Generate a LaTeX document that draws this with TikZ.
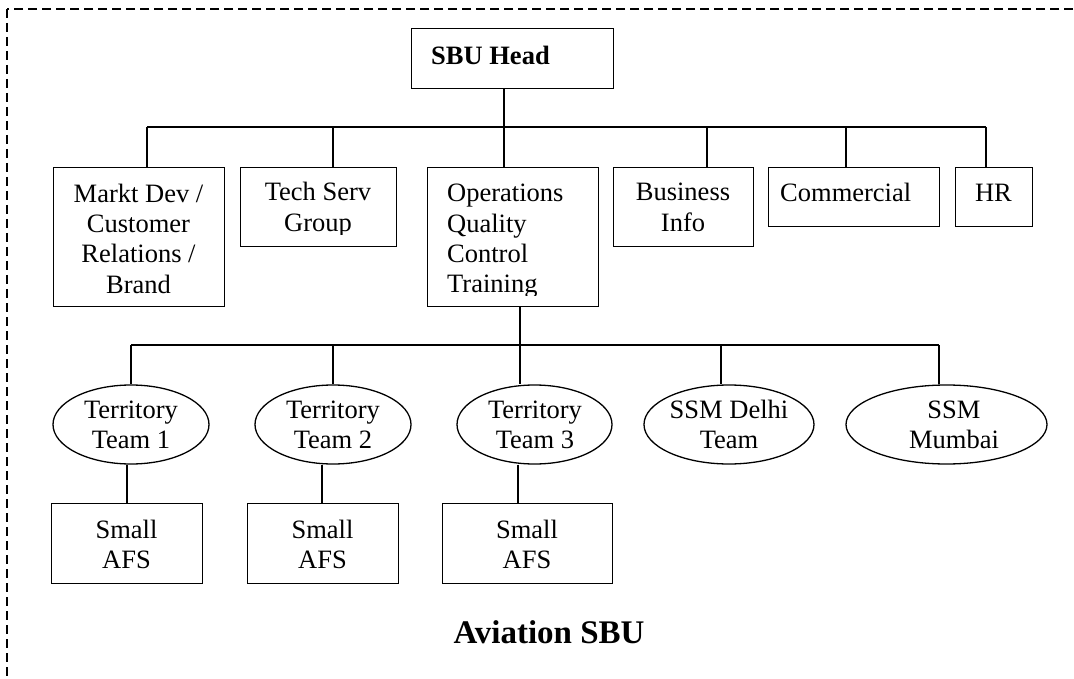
\documentclass[tikz,border=0pt]{standalone}
\usepackage{fontspec}
\setmainfont{Liberation Serif}
\usetikzlibrary{shapes.geometric}
\begin{document}
\begin{tikzpicture}[x=1pt,y=-1pt,
  unit/.style={draw,line width=1.3pt,rectangle,inner sep=0pt,anchor=north west},
  team/.style={draw,line width=1.3pt,ellipse,inner sep=0pt},
  txt/.style={inner sep=0pt,anchor=base,align=center,font=\fontsize{26.5}{30.5}\selectfont},
  txtl/.style={txt,anchor=base west,align=left},
  link/.style={line width=1.3pt},
  frame/.style={line width=1.3pt,dash pattern=on 9pt off 5pt}]

\clip (0,0) rectangle (1074,679);
\path[use as bounding box] (0,0) rectangle (1074,679);

% outer dashed frame (runs off the right and bottom edges)
\draw[frame] (7,9) rectangle (1110,720);

% head of the unit (text nodes are placed at the baseline of their last line)
\node[unit,minimum width=202pt,minimum height=60pt] (head) at (411,28) {};
\node[txtl,font=\fontsize{26.5}{30.5}\selectfont\bfseries] (headt) at (431,65) {SBU Head};

% first level
\node[unit,minimum width=171pt,minimum height=139pt] (md)  at (53,167)  {};
\node[unit,minimum width=156pt,minimum height=79pt]  (ts)  at (240,167) {};
\node[unit,minimum width=171pt,minimum height=139pt] (ops) at (427,167) {};
\node[unit,minimum width=140pt,minimum height=79pt]  (bi)  at (613,167) {};
\node[unit,minimum width=171pt,minimum height=59pt]  (com) at (768,167) {};
\node[unit,minimum width=77pt,minimum height=59pt]   (hr)  at (955,167) {};

\node[txt] (mdt) at (138.5,293.5) {Markt Dev /\\Customer\\Relations /\\Brand};
\begin{scope}
  \clip (ts.north west) rectangle (396,234.5);
  \node[txt] (tst) at (318,231.5) {Tech Serv\\Group};
\end{scope}
\begin{scope}
  \clip (ops.north west) rectangle (598,295.5);
  \node[txtl] (opst) at (447,293) {Operations\\Quality\\Control\\Training};
\end{scope}
\node[txt] (bit) at (683,231.5) {Business\\Info};
\node[txtl] (comt) at (780,202) {Commercial};
\node[txt] (hrt) at (993.5,202) {HR};

% second level
\node[team,minimum width=156pt,minimum height=79pt] (t1) at (131,424.5) {};
\node[team,minimum width=156pt,minimum height=79pt] (t2) at (333,424.5) {};
\node[team,minimum width=155pt,minimum height=79pt] (t3) at (534.5,424.5) {};
\node[team,minimum width=170pt,minimum height=79pt] (sd) at (729,424.5) {};
\node[team,minimum width=201pt,minimum height=79pt] (sm) at (946.5,424.5) {};

\node[txt] (t1t) at (131,448.5) {Territory\\Team 1};
\node[txt] (t2t) at (333,448.5) {Territory\\Team 2};
\node[txt] (t3t) at (535,448.5) {Territory\\Team 3};
\node[txt] (sdt) at (729,448.5) {SSM Delhi\\Team};
\node[txt] (smt) at (954,448.5) {SSM\\Mumbai};

% third level
\node[unit,minimum width=151pt,minimum height=80pt] (a1) at (51,503)  {};
\node[unit,minimum width=151pt,minimum height=80pt] (a2) at (247,503) {};
\node[unit,minimum width=170pt,minimum height=80pt] (a3) at (442,503) {};

\node[txt] (a1t) at (126.5,568.5) {Small\\AFS};
\node[txt] (a2t) at (322.5,568.5) {Small\\AFS};
\node[txt] (a3t) at (527,568.5) {Small\\AFS};

% caption
\node[txt,font=\fontsize{33}{38}\selectfont\bfseries] (cap) at (549,643) {Aviation SBU};

% upper bus
\coordinate (jmd)  at (147,127);
\coordinate (jts)  at (333,127);
\coordinate (jops) at (504,127);
\coordinate (jbi)  at (707,127);
\coordinate (jcom) at (846,127);
\coordinate (jhr)  at (986,127);
\draw[link] (jmd) -- (jhr);
\draw[link] (jops |- head.south) -- (jops |- ops.north);
\draw[link] (jmd) -- (jmd |- md.north);
\draw[link] (jts) -- (jts |- ts.north);
\draw[link] (jbi) -- (jbi |- bi.north);
\draw[link] (jcom) -- (jcom |- com.north);
\draw[link] (jhr) -- (jhr |- hr.north);

% lower bus
\coordinate (kt1) at (131,345);
\coordinate (kt2) at (333,345);
\coordinate (kt3) at (520,345);
\coordinate (ksd) at (721,345);
\coordinate (ksm) at (939,345);
\draw[link] (kt1) -- (ksm);
\draw[link] (kt3 |- ops.south) -- (kt3 |- t3.north);
\draw[link] (kt1) -- (t1.north);
\draw[link] (kt2) -- (t2.north);
\draw[link] (ksd) -- (ksd |- sd.north);
\draw[link] (ksm) -- (ksm |- sm.north);

% teams to their AFS units
\coordinate (m1) at (127,0);
\coordinate (m2) at (322,0);
\coordinate (m3) at (518,0);
\draw[link] (m1 |- t1.south) -- (m1 |- a1.north);
\draw[link] (m2 |- t2.south) -- (m2 |- a2.north);
\draw[link] (m3 |- t3.south) -- (m3 |- a3.north);
\end{tikzpicture}
\end{document}
